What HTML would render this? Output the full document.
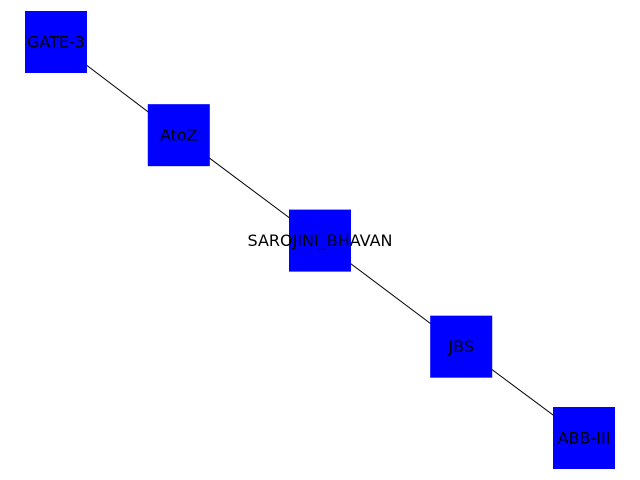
<!DOCTYPE html>
<html><head><meta charset="utf-8"><style>
html,body{margin:0;padding:0;background:#fff;}
svg{display:block;}
text{font-family:"DejaVu Sans","Liberation Sans",sans-serif;font-size:16px;}
</style></head><body>
<svg id="chart" width="640" height="480"></svg>
<script>
const nodeNames = ["GATE-3","AtoZ","SAROJINI_BHAVAN","JBS","ABB-III"];
const nodeX = [0.0, 0.2, 0.43, 0.66, 0.86];
const nodeY = [1.0, 0.848, 0.676, 0.503, 0.354];
const edgeFrom = [0,1,2,3];
const edgeTo = [1,2,3,4];
const NS="http://www.w3.org/2000/svg";
const svg=document.getElementById('chart');
function sx(v){return 56 + v*(584-56)/0.86;}
function sy(v){return 438 - (v-0.354)*(438-42)/(1.0-0.354);}
for(let i=0;i<edgeFrom.length;i++){
  const a=edgeFrom[i], b=edgeTo[i];
  const l=document.createElementNS(NS,'line');
  l.setAttribute('x1',sx(nodeX[a]));l.setAttribute('y1',sy(nodeY[a]));
  l.setAttribute('x2',sx(nodeX[b]));l.setAttribute('y2',sy(nodeY[b]));
  l.setAttribute('stroke','#000');l.setAttribute('stroke-width','1');
  
  
  svg.appendChild(l);
}
for(let i=0;i<nodeNames.length;i++){
  const g=document.createElementNS(NS,'g');
  
  
  const r=document.createElementNS(NS,'rect');
  r.setAttribute('x',sx(nodeX[i])-31);r.setAttribute('y',sy(nodeY[i])-31);
  r.setAttribute('width',62);r.setAttribute('height',62);r.setAttribute('fill','#0000ff');
  
  
  const t=document.createElementNS(NS,'text');
  t.setAttribute('x',sx(nodeX[i]));t.setAttribute('y',sy(nodeY[i]));
  t.setAttribute('text-anchor','middle');t.setAttribute('dominant-baseline','central');
  t.setAttribute('fill','#000');
  t.textContent=nodeNames[i];
  
  
  g.appendChild(r);g.appendChild(t);svg.appendChild(g);
}
</script>
</body></html>
